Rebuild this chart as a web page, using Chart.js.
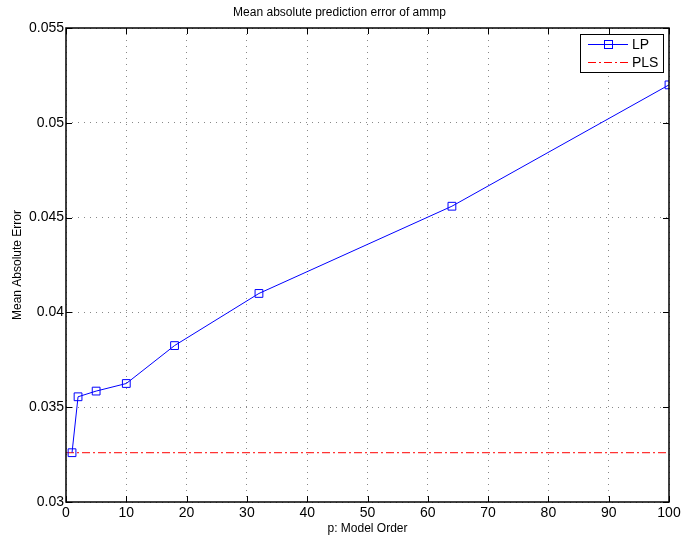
<!DOCTYPE html>
<html lang="en">
<head>
  <meta charset="UTF-8">
  <title>Mean absolute prediction error of ammp</title>
  <script src="https://cdn.jsdelivr.net/npm/chart.js"></script>
  <style>
    html, body { margin: 0; padding: 0; background: #ffffff; }
    .chart-box { width: 691px; height: 538px; }
  </style>
</head>
<body>
  <div class="chart-box">
    <canvas id="maeChart"></canvas>
  </div>

  <script>
    const modelOrders = [1, 2, 5, 10, 18, 32, 64, 100];
    const lpError = [0.0326, 0.03555, 0.03585, 0.03625, 0.03825, 0.0410, 0.0456, 0.0520];
    const plsError = [0.0326, 0.0326];
    const plsRange = [0, 100];
    const xTicks = [0, 10, 20, 30, 40, 50, 60, 70, 80, 90, 100];
    const yTicks = [0.03, 0.035, 0.04, 0.045, 0.05, 0.055];

    const font = "'Liberation Sans', Arial, sans-serif";

    // MATLAB style frame: full box + inward ticks on all sides, legend inside the axes
    const matlabFrame = {
      id: 'matlabFrame',
      afterDraw(chart) {
        const { ctx, chartArea: a, scales: { x, y } } = chart;
        ctx.save();
        ctx.strokeStyle = '#000';
        ctx.lineWidth = 1;
        ctx.beginPath();
        xTicks.forEach(v => {
          const px = Math.round(x.getPixelForValue(v)) + 0.5;
          ctx.moveTo(px, a.bottom); ctx.lineTo(px, a.bottom - 6);
          ctx.moveTo(px, a.top); ctx.lineTo(px, a.top + 6);
        });
        yTicks.forEach(v => {
          const py = Math.round(y.getPixelForValue(v)) + 0.5;
          ctx.moveTo(a.left, py); ctx.lineTo(a.left + 6, py);
          ctx.moveTo(a.right, py); ctx.lineTo(a.right - 6, py);
        });
        ctx.stroke();
        ctx.lineWidth = 1.5;
        ctx.strokeRect(a.left, a.top, a.right - a.left, a.bottom - a.top);

        // legend
        const lx = 580, ly = 34, lw = 83, lh = 38;
        ctx.fillStyle = '#fff';
        ctx.fillRect(lx, ly, lw, lh);
        ctx.lineWidth = 1;
        ctx.strokeRect(lx + 0.5, ly + 0.5, lw, lh);
        ctx.strokeStyle = '#0000ff';
        ctx.beginPath();
        ctx.moveTo(588, 44.5); ctx.lineTo(628, 44.5);
        ctx.stroke();
        ctx.strokeRect(604.5, 40.5, 8, 8);
        ctx.strokeStyle = '#ff0000';
        ctx.setLineDash([8, 3, 2, 3]);
        ctx.beginPath();
        ctx.moveTo(588, 62.5); ctx.lineTo(628, 62.5);
        ctx.stroke();
        ctx.setLineDash([]);
        ctx.fillStyle = '#000';
        ctx.font = '14px ' + font;
        ctx.textBaseline = 'middle';
        ctx.fillText('LP', 632, 45);
        ctx.fillText('PLS', 632, 63);
        ctx.restore();
      }
    };

    new Chart(document.getElementById('maeChart'), {
      type: 'line',
      data: {
        datasets: [{
          label: 'LP',
          data: modelOrders.map((p, i) => ({ x: p, y: lpError[i] })),
          borderColor: '#0000ff',
          backgroundColor: 'rgba(0,0,0,0)',
          borderWidth: 1,
          pointStyle: 'rect',
          pointRadius: 5.5,
          pointBorderWidth: 1,
          pointBorderColor: '#0000ff',
          pointBackgroundColor: 'rgba(0,0,0,0)',
          tension: 0
        }, {
          label: 'PLS',
          data: plsRange.map((p, i) => ({ x: p, y: plsError[i] })),
          borderColor: '#ff0000',
          borderWidth: 1,
          borderDash: [8, 3, 2, 3],
          pointRadius: 0,
          tension: 0
        }]
      },
      options: {
        responsive: true,
        maintainAspectRatio: false,
        animation: false,
        layout: { padding: { left: 10, right: 22, top: 0, bottom: 2 } },
        plugins: {
          legend: { display: false },
          tooltip: { enabled: false },
          title: {
            display: true,
            text: 'Mean absolute prediction error of ammp',
            color: '#000',
            font: { family: font, size: 12, weight: 'normal' },
            padding: { top: 5, bottom: 8.6 }
          }
        },
        scales: {
          x: {
            type: 'linear',
            min: 0,
            max: 100,
            afterBuildTicks: s => { s.ticks = xTicks.map(v => ({ value: v })); },
            afterFit: s => { s.height = 34; },
            ticks: { color: '#000', font: { family: font, size: 14 }, padding: 3, maxRotation: 0 },
            grid: { color: '#888', drawTicks: false },
            border: { display: false, dash: [1, 5] },
            title: {
              display: true,
              text: 'p: Model Order',
              color: '#000',
              font: { family: font, size: 12 },
              padding: { top: 0, bottom: 0 }
            }
          },
          y: {
            min: 0.03,
            max: 0.055,
            afterBuildTicks: s => { s.ticks = yTicks.map(v => ({ value: v })); },
            afterFit: s => { s.width = 56; },
            ticks: {
              color: '#000',
              font: { family: font, size: 14 },
              padding: 2,
              callback: v => String(parseFloat(v.toFixed(3)))
            },
            grid: { color: '#888', drawTicks: false },
            border: { display: false, dash: [1, 5] },
            title: {
              display: true,
              text: 'Mean Absolute Error',
              color: '#000',
              font: { family: font, size: 12 },
              padding: { top: 0, bottom: 2 }
            }
          }
        }
      },
      plugins: [matlabFrame]
    });
  </script>
</body>
</html>
